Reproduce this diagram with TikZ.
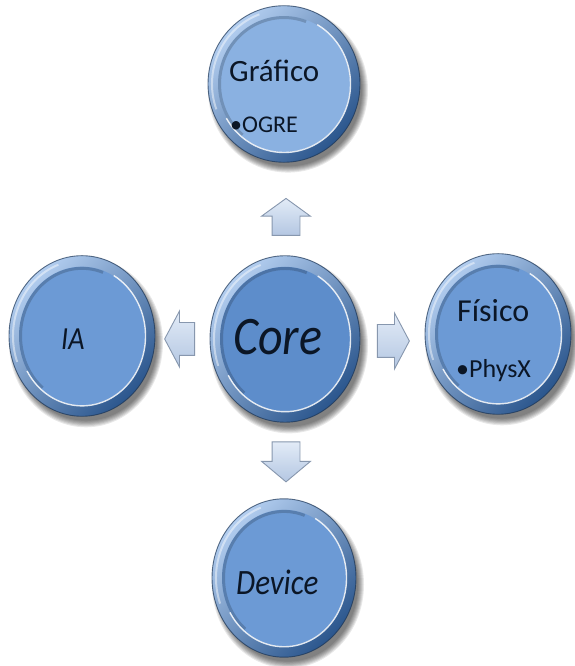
\documentclass[tikz,border=0pt]{standalone}
\usepackage{fontspec}
\setmainfont{Carlito}
\usetikzlibrary{shapes.arrows,shapes.geometric}

\definecolor{rimlight}{HTML}{B3CEF0}
\definecolor{rimdark}{HTML}{2B568D}
\definecolor{faceblue}{HTML}{6C9AD5}
\definecolor{coreblue}{HTML}{5D8DCB}
\definecolor{topblue}{HTML}{8AB1E1}
\definecolor{inkcol}{HTML}{0B1626}
\definecolor{arrowfill}{HTML}{E2EBF7}
\definecolor{arrowdark}{HTML}{B4C7E2}
\definecolor{arrowedge}{HTML}{8797AE}

% bevelled round button: centre, radius, face colour, vertical stretch
\newcommand\bevelbutton[4]{%
  \begin{scope}[shift={(#1)}, yscale=#4]
    % soft drop shadow towards the lower right
    \foreach \k in {0,...,6}
      \fill[black, opacity=0.09] (4,-6) circle[radius=#2+4-\k];
    % outer rim
    \shade[shading=axis, top color=rimlight, bottom color=rimdark, shading angle=45]
      (0,0) circle[radius=#2];
    \draw[rimdark!60!black, opacity=0.7, line width=0.9pt] (0,0) circle[radius=#2];
    % light gleam on the rim, upper left
    \draw[white, opacity=0.45, line width=2pt]
      (110:#2-4) arc[start angle=110, end angle=200, radius=#2-4];
    % recessed face
    \fill[#3] (0,0) circle[radius=#2-10];
    \draw[black, opacity=0.18, line width=3pt]
      (70:#2-11.5) arc[start angle=70, end angle=230, radius=#2-11.5];
    \draw[white, opacity=0.85, line width=1.4pt]
      (-150:#2-9.5) arc[start angle=-150, end angle=60, radius=#2-9.5];
  \end{scope}}

\tikzset{
  label/.style={text=inkcol, inner sep=0pt, anchor=base west},
  blockarrow/.style={single arrow, draw=arrowedge, line width=0.9pt,
    shading=axis, top color=arrowfill, bottom color=arrowdark,
    single arrow head indent=0pt, inner xsep=0pt},
  hub/.style={ellipse, inner sep=0pt}
}

\begin{document}
\begin{tikzpicture}[x=1pt, y=1pt]
  \useasboundingbox (0,0) rectangle (575,666);
  \fill[white] (0,0) rectangle (575,666);

  % buttons
  \bevelbutton{284,582}{76}{topblue}{1.03}
  \bevelbutton{285,327}{75}{coreblue}{1.11}
  \bevelbutton{82,330}{73}{faceblue}{1.1}
  \bevelbutton{498,332}{73}{faceblue}{1.1}
  \bevelbutton{284,88}{72}{faceblue}{1.1}

  \node[hub, minimum width=152pt, minimum height=157pt] (grafico) at (284,582) {};
  \node[hub, minimum width=150pt, minimum height=166pt] (core) at (285,327) {};
  \node[hub, minimum width=146pt, minimum height=160pt] (ia) at (82,330) {};
  \node[hub, minimum width=146pt, minimum height=160pt] (fisico) at (498,332) {};
  \node[hub, minimum width=144pt, minimum height=158pt] (device) at (284,88) {};

  % texts
  \node[label, font=\fontsize{31}{34}\selectfont] (tg) at (229,584) {Gráfico};
  \node[label, font=\fontsize{24}{26}\selectfont] (tg2) at (230,533) {\textbullet OGRE};
  \node[label, font=\fontsize{48}{52}\itshape] (tc) at (233,311)
    {\scalebox{1}[1.13]{Core}};
  \node[label, font=\fontsize{28}{30}\itshape] (ti) at (61,316)
    {\scalebox{1}[1.15]{IA}};
  \node[label, font=\fontsize{32}{34}\selectfont] (tf) at (457,344) {Físico};
  \node[label, font=\fontsize{26}{28}\selectfont] (tf2) at (456,288) {\textbullet PhysX};
  \node[label, font=\fontsize{31}{34}\itshape] (td) at (236,71)
    {\scalebox{1}[1.15]{Device}};

  % block arrows from the core outwards
  \node[blockarrow, rotate=90, minimum height=37pt, inner ysep=13.5pt,
        single arrow head extend=10.5pt, single arrow tip angle=108] (aup) at (286,444) {};
  \node[blockarrow, rotate=180, minimum height=30pt, inner ysep=16pt,
        single arrow head extend=11.5pt, single arrow tip angle=124] (aleft) at (184,327) {};
  \node[blockarrow, rotate=0, minimum height=32pt, inner ysep=16pt,
        single arrow head extend=11.5pt, single arrow tip angle=124] (aright) at (389,325) {};
  \node[blockarrow, rotate=270, minimum height=40pt, inner ysep=13.5pt,
        single arrow head extend=10.5pt, single arrow tip angle=100] (adown) at (286,210) {};
\end{tikzpicture}
\end{document}
